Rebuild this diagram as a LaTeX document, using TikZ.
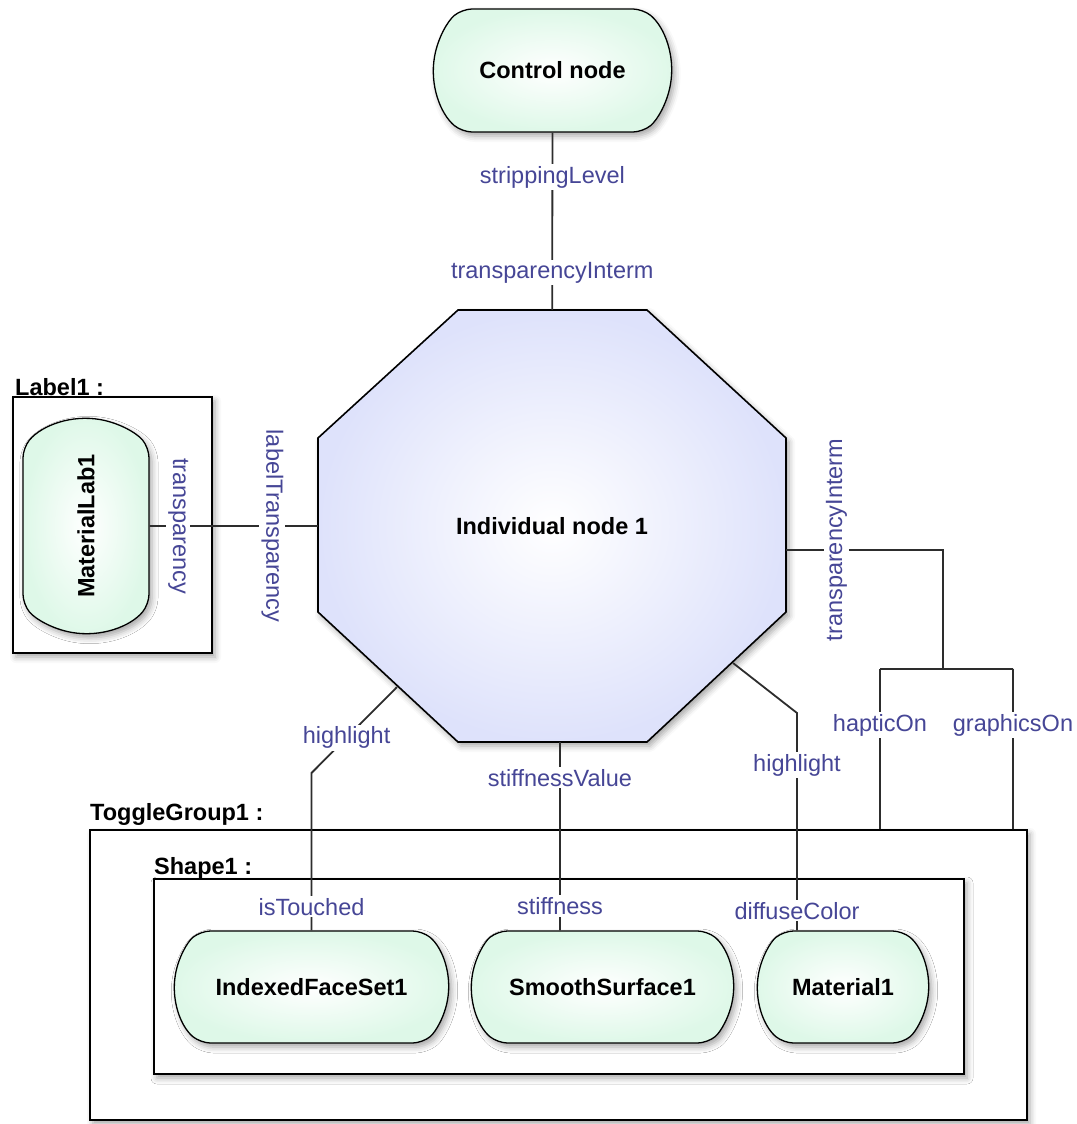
\documentclass[tikz,border=0pt]{standalone}
\usepackage{fontspec}
\setmainfont{Liberation Sans}
\usetikzlibrary{shapes.misc, shadows.blur, calc}
\definecolor{mint}{RGB}{222,248,232}
\definecolor{lavender}{RGB}{222,226,251}
\definecolor{fieldblue}{RGB}{70,70,150}
\definecolor{linegray}{RGB}{45,45,45}
\tikzset{>=latex}
\newcommand{\dfont}{\fontsize{23.5}{28}\selectfont}

\begin{document}
\begin{tikzpicture}[x=1pt, y=-1pt,
  sh/.style={blur shadow={shadow xshift=3pt, shadow yshift=-4pt, shadow blur radius=6pt, shadow opacity=35}},
  valnode/.style={rounded rectangle, rounded rectangle arc length=100, rounded corners=10pt, draw=black, line width=1.3pt, inner color=white, outer color=mint, font=\dfont\bfseries, sh},
  grpbox/.style={draw=black, line width=1.8pt, fill=white, sh},
  grptitle/.style={anchor=base west, inner sep=0pt, font=\dfont\bfseries},
  lbl/.style={fill=white, text=fieldblue, inner sep=2pt, font=\dfont},
  wire/.style={draw=linegray, line width=1.8pt}]
\useasboundingbox (0,0) rectangle (1076,1124);

% groups
\node[grpbox, minimum width=199, minimum height=256] (label1) at (112.5,525) {};
\node[grptitle] at (15,395) {Label1 :};
\node[grpbox, minimum width=937, minimum height=290] (toggle) at (558.5,975) {};
\node[grptitle] at (90,820) {ToggleGroup1 :};
\node[grpbox, minimum width=810, minimum height=195] (shape1) at (559,976.5) {};
\node[grptitle] at (154,874) {Shape1 :};

% individual node
\path[draw=black, line width=1.6pt, inner color=white, outer color=lavender, sh]
  (458,310) -- (647,310) -- (786,438) -- (786,612) -- (647,742) -- (458,742) -- (318,612) -- (318,438) -- cycle;
\node[minimum width=468, minimum height=432, font=\dfont\bfseries] (ind) at (552,526) {Individual node 1};

\node[valnode, minimum width=245, minimum height=123] (ctrl) at (552.5,70.5) {Control node};
\node[valnode, rotate=90, minimum width=222, minimum height=126] (matlab) at (86,526) {MaterialLab1};
\node[valnode, minimum width=281, minimum height=112] (ifs) at (311.5,987) {IndexedFaceSet1};
\node[valnode, minimum width=269, minimum height=112] (ss) at (602.5,987) {SmoothSurface1};
\node[valnode, minimum width=178, minimum height=112] (mat) at (843,987) {Material1};

\coordinate (hl1) at (397,687);
\coordinate (hl2) at (311.5,773);
\coordinate (sv) at (560,742);
\coordinate (hr1) at (733,663);
\coordinate (hr2) at (797,713);
\coordinate (jn) at (943,669);
\coordinate (jl) at (880,669);
\coordinate (jr) at (1013,669);

\path[wire]
(ctrl) -- node[lbl, pos=.25] {strippingLevel} node[lbl, pos=.79] {transparencyInterm} (ind)
(matlab) -- node[lbl, pos=.17, rotate=-90] {transparency} node[lbl, pos=.73, rotate=-90] {labelTransparency} (ind)
(hl1) -- node[lbl, pos=.59] {highlight} (hl2) -- node[lbl, pos=.85] {isTouched} (ifs.north)
(sv) -- node[lbl, pos=.19] {stiffnessValue} node[lbl, pos=.87] {stiffness} (sv |- ss.north)
(hr1) -- (hr2) -- node[lbl, pos=.24] {highlight} node[lbl, pos=.91] {diffuseColor} (hr2 |- mat.north)
([yshift=-24pt]ind.east) -- node[lbl, pos=.32, yshift=10pt, rotate=90] {transparencyInterm} (jn |- 0,550) -- (jn)
(jl) -- (jr)
(jl) -- node[lbl, pos=.35] {hapticOn} (jl |- toggle.north)
(jr) -- node[lbl, pos=.35] {graphicsOn} (jr |- toggle.north);
\end{tikzpicture}
\end{document}
